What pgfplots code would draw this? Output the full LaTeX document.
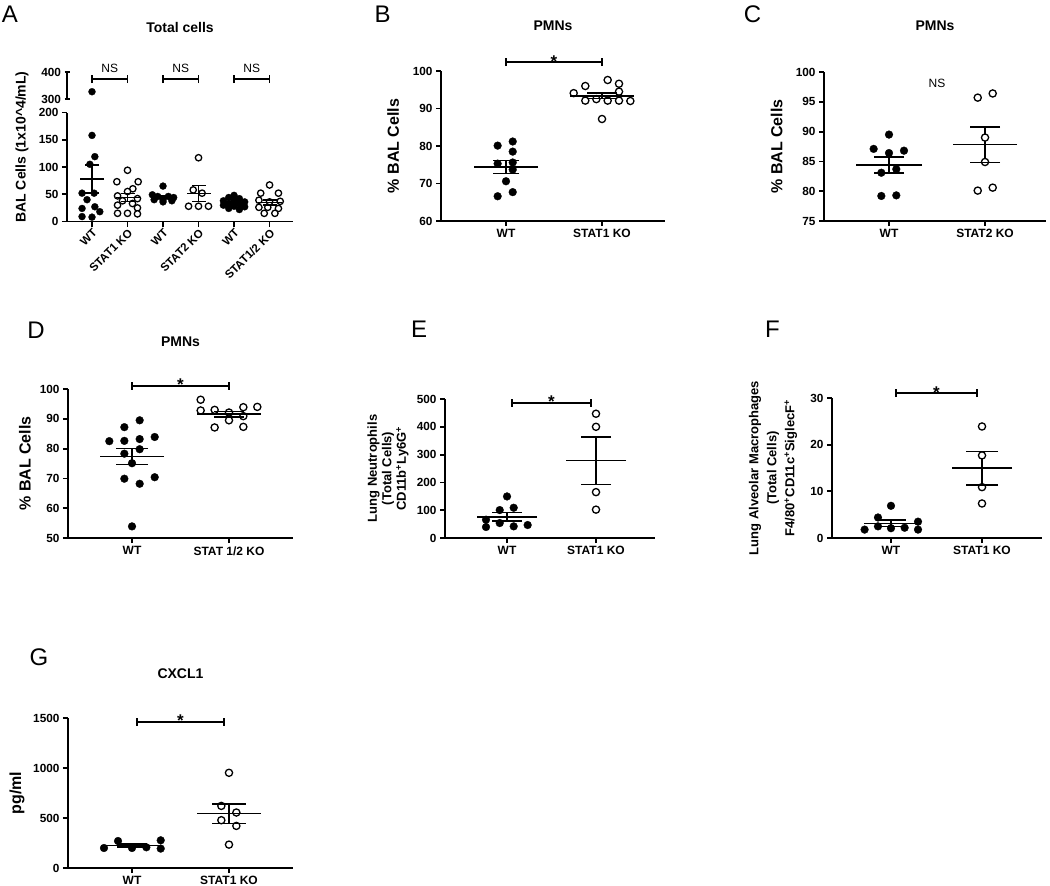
\documentclass[border=0pt]{standalone}
\usepackage{pgfplots}
\pgfplotsset{compat=1.18}
\usepackage{fontspec}
\setmainfont{Liberation Sans}
\newcommand{\fs}[1]{\fontsize{#1}{#1}\selectfont}
\pgfplotsset{
  prism/.style={
    scale only axis, clip=false, anchor=south west,
    axis lines=left, axis line style={line width=1.8pt, -},
    every tick/.style={black, line width=1.8pt},
    major tick length=5pt, tick align=outside,
    /pgf/number format/assume math mode=true,
    /pgf/number format/1000 sep={},
    yticklabel style={font=\fs{11.8}\bfseries},
    xticklabel style={font=\fs{12}\bfseries},
    ylabel style={font=\fs{16}\bfseries, anchor=center},
    title style={font=\fs{14}\bfseries, anchor=center},
    xtick={1,2},
  },
  filled/.style={only marks, mark=*, mark size=3.9pt, mark options={draw=black, fill=black, line width=0.3pt}},
  open/.style={only marks, mark=*, mark size=3.6pt, mark options={draw=black, fill=white, line width=1.3pt}},
  filledA/.style={only marks, mark=*, mark size=3.5pt, mark options={draw=black, fill=black, line width=0.3pt}},
  openA/.style={only marks, mark=*, mark size=3.2pt, mark options={draw=black, fill=white, line width=1.3pt}},
}
% x, mean, lo, hi, half-width, cap half-width
\newcommand{\msem}[6]{%
  \addplot[black, line width=1.4pt] coordinates {(#1,#3) (#1,#4)};
  \addplot[black, only marks, mark=-, mark size=#5, mark options={line width=1.4pt}] coordinates {(#1,#2)};
  \addplot[black, only marks, mark=-, mark size=#6, mark options={line width=1.4pt}] coordinates {(#1,#3) (#1,#4)};
}
% x1, x2, xmid, y, text, yshift
\newcommand{\sig}[6]{%
  \draw[line width=1.8pt] (axis cs:#1,#4) -- (axis cs:#2,#4);
  \draw[line width=1.8pt] ([yshift=-4pt]axis cs:#1,#4) -- ([yshift=4pt]axis cs:#1,#4);
  \draw[line width=1.8pt] ([yshift=-4pt]axis cs:#2,#4) -- ([yshift=4pt]axis cs:#2,#4);
  \node[anchor=base, inner sep=0pt, yshift=#6] at (axis cs:#3,#4) {#5};
}
\begin{document}
\begin{tikzpicture}
\path[use as bounding box] (0,0) rectangle (1050pt,-886pt);

% ---------------- Panel A (lower part) ----------------
\begin{axis}[prism, at={(67pt,-221.5pt)}, width=226pt, height=109pt,
  xmin=0.296, xmax=6.66, ymin=0, ymax=200, ytick={0,50,100,150,200},
  xtick={1,2,3,4,5,6}, xticklabels={WT,STAT1 KO,WT,STAT2 KO,WT,STAT1/2 KO},
  xticklabel style={rotate=45, anchor=north east, inner sep=1pt, font=\fs{11.5}\bfseries},
  ylabel={BAL Cells (1x10\textasciicircum 4/mL)},
  ylabel style={at={(axis description cs:-0.199,0.683)}, font=\fs{14}\bfseries},
  title={Total cells}, title style={at={(axis description cs:0.5,1.729)}}]
\addplot[filledA] coordinates {(1.0,158) (1.08,119) (0.94,105) (0.72,52) (1.06,52) (0.86,40) (0.72,24) (1.08,27) (1.22,18) (0.72,9) (1.0,8)};
\addplot[openA] coordinates {(2.0,94) (1.7,73) (2.3,73) (2.15,60) (2.0,55) (1.72,47) (2.28,42) (1.86,38) (2.14,33) (1.72,30) (2.28,25) (1.72,15) (2.0,15) (2.28,14)};
\addplot[filledA] coordinates {(3.0,65) (2.7,49) (2.85,46) (3.15,46) (3.3,44) (2.75,40) (3.0,40) (3.25,38) (3.0,36)};
\addplot[openA] coordinates {(4.0,117) (3.85,58) (4.1,52) (3.72,28) (4.0,28) (4.28,28)};
\addplot[filledA] coordinates {(5.0,48) (4.85,44) (5.15,42) (4.7,38) (5.0,38) (5.3,36) (4.85,33) (5.15,32) (4.7,30) (5.0,28) (5.3,27) (4.85,24) (5.15,22)};
\addplot[openA] coordinates {(6.0,67) (5.75,52) (6.25,52) (5.7,39) (6.0,36) (6.3,37) (5.7,26) (5.95,26) (6.25,24) (5.85,15) (6.15,15)};
\msem{1}{78.25}{52}{104}{12pt}{7pt}
\msem{2}{43.9}{36.5}{51.3}{12pt}{7pt}
\msem{3}{44.9}{42}{48}{12pt}{7pt}
\msem{4}{51.8}{37}{66}{12pt}{7pt}
\msem{5}{34}{31.8}{36.2}{12pt}{7pt}
\msem{6}{35.2}{30.6}{39.8}{12pt}{7pt}
\end{axis}
% ---------------- Panel A (upper part) ----------------
\begin{axis}[prism, at={(67pt,-99pt)}, width=226pt, height=27pt,
  xmin=0.296, xmax=6.66, ymin=300, ymax=400, ytick={300,400},
  axis x line=none, axis y line=left, y axis line style={-}]
\addplot[filledA] coordinates {(1.0,327)};
\sig{1}{2}{1.5}{374}{\fs{12}NS}{7pt}
\sig{3}{4}{3.5}{374}{\fs{12}NS}{7pt}
\sig{5}{6}{5.5}{374}{\fs{12}NS}{7pt}
\end{axis}

% ---------------- Panel B ----------------
\begin{axis}[prism, at={(441pt,-221pt)}, width=224pt, height=150pt,
  xmin=0.323, xmax=2.656, ymin=60, ymax=100, ytick={60,70,80,90,100},
  xticklabels={WT,STAT1 KO},
  ylabel={\% BAL Cells}, ylabel style={at={(axis description cs:-0.214,0.5)}},
  title={PMNs}, title style={at={(axis description cs:0.5,1.26)}}]
\addplot[filled] coordinates {(0.913,80.1) (1.07,81.2) (1.07,78.5) (0.913,75.3) (1.07,75.6) (1.07,73.7) (1.0,70.6) (1.07,67.7) (0.913,66.6)};
\addplot[open] coordinates {(1.705,94.1) (1.826,96.0) (2.059,97.6) (2.177,96.6) (2.177,94.5) (1.826,92.1) (1.941,92.5) (2.059,92.1) (2.177,92.1) (2.295,92.0) (2.0,87.2)};
\msem{1}{74.4}{72.65}{76.15}{32pt}{13pt}
\msem{2}{93.35}{92.6}{94.1}{32pt}{15pt}
\sig{1}{2}{1.5}{102.4}{\fs{17}\bfseries *}{-5pt}
\end{axis}

% ---------------- Panel C ----------------
\begin{axis}[prism, at={(824pt,-221pt)}, width=222pt, height=149pt,
  xmin=0.323, xmax=2.635, ymin=75, ymax=100, ytick={75,80,85,90,95,100},
  xticklabels={WT,STAT2 KO},
  ylabel={\% BAL Cells}, ylabel style={at={(axis description cs:-0.213,0.5)}},
  title={PMNs}, title style={at={(axis description cs:0.5,1.268)}}]
\addplot[filled] coordinates {(1.0,89.5) (0.84,87.1) (1.0,86.4) (1.156,86.8) (0.92,83.1) (1.076,83.7) (0.92,79.2) (1.076,79.3)};
\addplot[open] coordinates {(1.924,95.7) (2.08,96.4) (2.0,89.0) (2.0,84.9) (1.924,80.1) (2.08,80.6)};
\msem{1}{84.4}{83.05}{85.75}{33pt}{15pt}
\msem{2}{87.8}{84.85}{90.75}{32pt}{15pt}
\node[font=\fs{12}, anchor=center] at (axis cs:1.5,98.1) {NS};
\end{axis}

% ---------------- Panel D ----------------
\begin{axis}[prism, at={(68pt,-538pt)}, width=225pt, height=149pt,
  xmin=0.34, xmax=2.66, ymin=50, ymax=100, ytick={50,60,70,80,90,100},
  xticklabels={WT,STAT 1/2 KO},
  ylabel={\% BAL Cells}, ylabel style={at={(axis description cs:-0.191,0.5)}},
  title={PMNs}, title style={at={(axis description cs:0.5,1.275)}}]
\addplot[filled] coordinates {(1.079,89.5) (0.921,87.2) (0.766,82.5) (0.921,82.6) (1.079,83.2) (1.234,83.9) (0.921,78.3) (1.079,79.8) (1.0,75.1) (0.921,69.9) (1.079,68.2) (1.234,70.4) (1.0,53.9)};
\addplot[open] coordinates {(1.708,96.4) (1.708,92.8) (1.852,93.0) (2.0,92.1) (2.148,93.9) (2.292,94.0) (2.0,89.5) (2.148,90.9) (1.852,87.1) (2.148,87.3)};
\msem{1}{77.3}{74.65}{79.95}{32pt}{16pt}
\msem{2}{91.6}{90.65}{92.55}{32pt}{15pt}
\sig{1}{2}{1.5}{101.1}{\fs{17}\bfseries *}{-5pt}
\end{axis}

% ---------------- Panel E ----------------
\begin{axis}[prism, at={(445pt,-538pt)}, width=210pt, height=139pt,
  xmin=0.303, xmax=2.663, ymin=0, ymax=500, ytick={0,100,200,300,400,500},
  xticklabels={WT,STAT1 KO},
  ylabel={Lung Neutrophils\\(Total Cells)\\CD11b\textsuperscript{+}Ly6G\textsuperscript{+}},
  ylabel style={at={(axis description cs:-0.271,0.5)}, align=center, font=\fontsize{13}{14.5}\selectfont\bfseries}]
\addplot[filled] coordinates {(1.0,149.5) (0.918,100.5) (1.075,108.9) (0.764,65.8) (0.918,53.8) (0.764,39.5) (1.075,41.9) (1.232,46.7)};
\addplot[open] coordinates {(2,447) (2,400) (2,165) (2,102)};
\msem{1}{75.8}{61}{91}{30pt}{15pt}
\msem{2}{278.5}{193}{364}{30pt}{15pt}
\sig{1.056}{1.944}{1.5}{487}{\fs{17}\bfseries *}{-5pt}
\end{axis}

% ---------------- Panel F ----------------
\begin{axis}[prism, at={(832pt,-538pt)}, width=210pt, height=140pt,
  xmin=0.352, xmax=2.659, ymin=0, ymax=30, ytick={0,10,20,30},
  xticklabels={WT,STAT1 KO},
  ylabel={Lung Alveolar Macrophages\\(Total Cells)\\F4/80\textsuperscript{+}CD11c\textsuperscript{+}SiglecF\textsuperscript{+}},
  ylabel style={at={(axis description cs:-0.281,0.5)}, align=center, font=\fontsize{13}{18}\selectfont\bfseries}]
\addplot[filled] coordinates {(1.0,6.9) (0.857,4.4) (0.71,1.8) (0.857,2.5) (1.0,2.1) (1.15,2.2) (1.297,3.5) (1.297,1.8)};
\addplot[open] coordinates {(2,23.9) (2,17.7) (2,10.9) (2,7.4)};
\msem{1}{3.15}{2.5}{3.9}{27pt}{15pt}
\msem{2}{15.0}{11.4}{18.6}{30pt}{16pt}
\sig{1.055}{1.945}{1.5}{31.07}{\fs{17}\bfseries *}{-5pt}
\end{axis}

% ---------------- Panel G ----------------
\begin{axis}[prism, at={(68pt,-868pt)}, width=225pt, height=150pt,
  xmin=0.34, xmax=2.66, ymin=0, ymax=1500, ytick={0,500,1000,1500},
  xticklabels={WT,STAT1 KO},
  ylabel={pg/ml}, ylabel style={at={(axis description cs:-0.227,0.5)}},
  title={CXCL1}, title style={at={(axis description cs:0.5,1.253)}}]
\addplot[filled] coordinates {(0.856,270) (0.711,200) (1.0,200) (1.148,207) (1.296,277) (1.296,194)};
\addplot[open] coordinates {(2.0,952) (1.921,621) (2.076,555) (1.921,478) (2.076,421) (2.0,234)};
\msem{1}{225}{210}{240}{30pt}{15pt}
\msem{2}{543.5}{448}{641}{32pt}{17pt}
\sig{1.052}{1.948}{1.5}{1463}{\fs{17}\bfseries *}{-5pt}
\end{axis}

% ---------------- Panel letters ----------------
\node[font=\fs{24}, anchor=base, inner sep=0pt] at (10pt,-22pt) {A};
\node[font=\fs{24}, anchor=base, inner sep=0pt] at (382.5pt,-22pt) {B};
\node[font=\fs{24}, anchor=base, inner sep=0pt] at (752.5pt,-22pt) {C};
\node[font=\fs{24}, anchor=base, inner sep=0pt] at (36pt,-338pt) {D};
\node[font=\fs{24}, anchor=base, inner sep=0pt] at (419pt,-337pt) {E};
\node[font=\fs{24}, anchor=base, inner sep=0pt] at (772.5pt,-337pt) {F};
\node[font=\fs{24}, anchor=base, inner sep=0pt] at (39pt,-665pt) {G};
\end{tikzpicture}
\end{document}
